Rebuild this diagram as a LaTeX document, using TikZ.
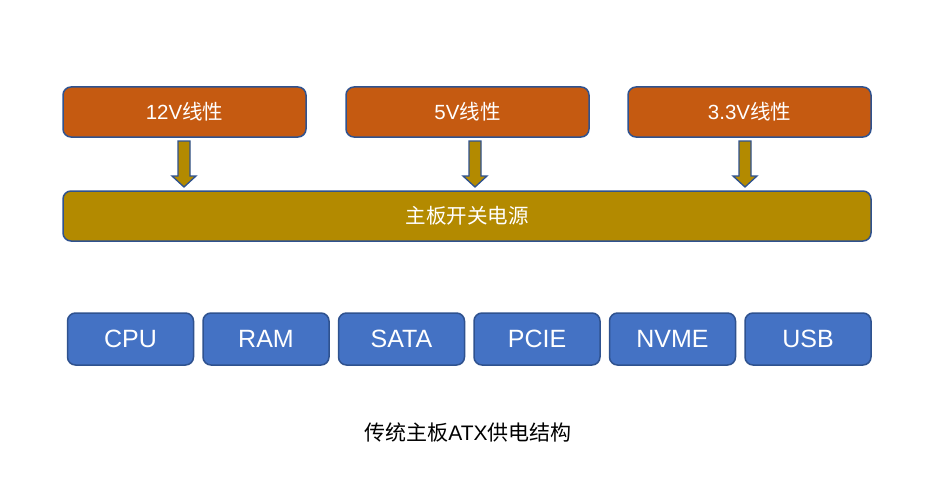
\documentclass[tikz,border=0pt]{standalone}
\usepackage{fontspec}
\setmainfont{Liberation Sans}
\newfontfamily\cjk{Noto Sans CJK SC}
\definecolor{orng}{HTML}{C55A11}
\definecolor{gold}{HTML}{B38A00}
\definecolor{blu}{HTML}{4472C4}
\definecolor{bord}{HTML}{2F528F}
\tikzset{
  x=1pt,y=-1pt,
  box/.style={draw=bord,line width=1.5pt,rounded corners=8pt,text=white,inner sep=0pt,anchor=center},
  srcbox/.style={box,fill=orng,minimum width=243pt,minimum height=50pt,font=\fontsize{20.5}{24}\selectfont},
  mainbox/.style={box,fill=gold,minimum width=808pt,minimum height=50pt,font=\fontsize{20.5}{24}\selectfont},
  devbox/.style={box,fill=blu,minimum width=126pt,minimum height=52pt,font=\fontsize{25}{28}\selectfont},
  downarrow/.style={draw=bord,line width=1.3pt,fill=gold}
}
\newcommand{\blockarrow}[3]{%
  \draw[downarrow] (#1-6,#2) -- (#1+6,#2) -- (#1+6,#3-11) -- (#1+12,#3-11) -- (#1,#3) -- (#1-12,#3-11) -- (#1-6,#3-11) -- cycle;
}
\begin{document}
\begin{tikzpicture}
\useasboundingbox[fill=white] (0,0) rectangle (940,495);
\node[srcbox] (v12) at (184.5,112) {12V{\cjk 线性}};
\node[srcbox] (v5) at (467.5,112) {5V{\cjk 线性}};
\node[srcbox] (v33) at (749.5,112) {3.3V{\cjk 线性}};
\node[mainbox] (psu) at (467,216) {\cjk 主板开关电源};
\blockarrow{184}{141}{187}
\blockarrow{475}{141}{187}
\blockarrow{745}{141}{187}
\node[devbox] (cpu) at (130.5,339) {CPU};
\node[devbox] (ram) at (266,339) {RAM};
\node[devbox] (sata) at (401.5,339) {SATA};
\node[devbox] (pcie) at (537,339) {PCIE};
\node[devbox] (nvme) at (672.5,339) {NVME};
\node[devbox] (usb) at (808,339) {USB};
\node[font=\fontsize{21}{24}\selectfont] (cap) at (468,432) {{\cjk 传统主板}ATX{\cjk 供电结构}};
\end{tikzpicture}
\end{document}
